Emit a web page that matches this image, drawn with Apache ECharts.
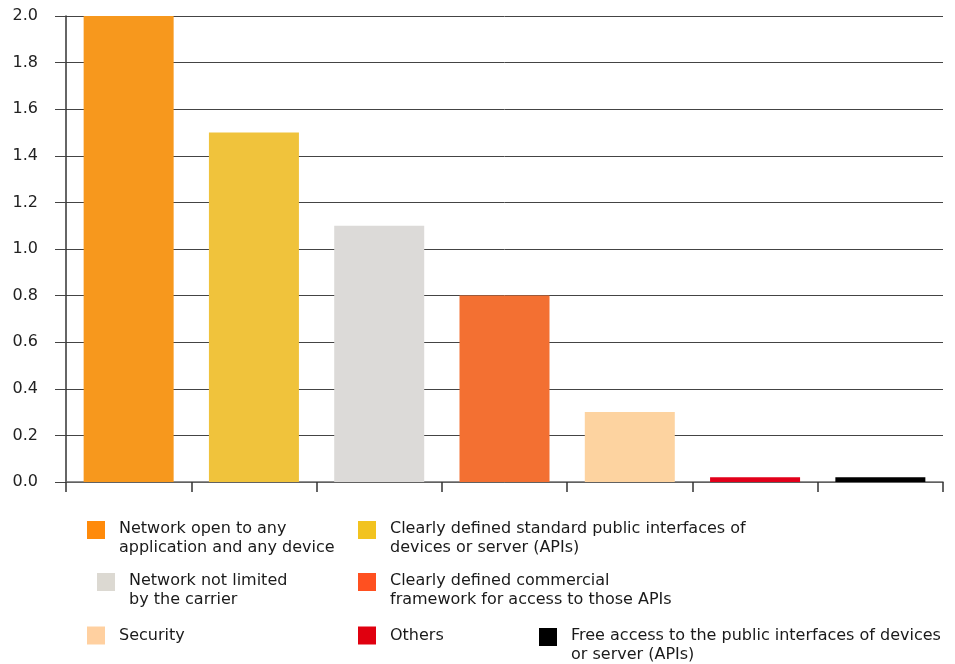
<!DOCTYPE html>
<html>
<head>
<meta charset="utf-8">
<script src="https://cdn.jsdelivr.net/npm/echarts@6/dist/echarts.min.js"></script>
<style>
  html, body { margin: 0; padding: 0; background: #fff; }
  #chart { width: 955px; height: 664px; }
</style>
</head>
<body>
<div id="chart"></div>
<script>
// Factors rated for an open mobile network
const seriesNames = [
  'Network open to any\napplication and any device',
  'Clearly defined standard public interfaces of\ndevices or server (APIs)',
  'Network not limited\nby the carrier',
  'Clearly defined commercial\nframework for access to those APIs',
  'Security',
  'Others',
  'Free access to the public interfaces of devices\nor server (APIs)'
];
const values = [2.0, 1.5, 1.1, 0.8, 0.3, 0.02, 0.02];
const barColors = ['#F7981D', '#F0C33C', '#DCDAD8', '#F37032', '#FDD3A0', '#E2001A', '#000000'];
const legendColors = ['#FF8A0A', '#F2C31F', '#DCD9D2', '#FF5020', '#FFD0A0', '#E0000F', '#000000'];
const yMin = 0, yMax = 2.0, yStep = 0.2;

// legend placement: [left, top] of each entry
const legendPos = [
  [87, 503], [358, 503],
  [97, 555], [358, 555],
  [87, 626], [358, 626], [539, 610]
];

const FONT = "'DejaVu Sans', Verdana, sans-serif";
const chart = echarts.init(document.getElementById('chart'), null, { renderer: 'canvas' });

const series = seriesNames.map((name, i) => ({
  name: name,
  type: 'bar',
  stack: 'all',
  barWidth: 90,
  itemStyle: { color: barColors[i] },
  data: seriesNames.map((_, j) => (j === i ? values[i] : '-'))
}));

const legends = seriesNames.map((name, i) => {
  const twoLine = name.indexOf('\n') >= 0;
  return {
    left: legendPos[i][0],
    top: legendPos[i][1],
    padding: 0,
    orient: 'vertical',
    icon: 'rect',
    itemWidth: 18,
    itemHeight: 18,
    selectedMode: false,
    data: [{ name: name, itemStyle: { color: legendColors[i] } }],
    // two-line entries hang from the top of their swatch
    formatter: n => (twoLine ? '{g| }\n' + n : n),
    textStyle: {
      fontFamily: FONT,
      fontSize: 16,
      color: '#1a1a1a',
      lineHeight: 19,
      padding: [0, 0, 0, 9],
      rich: { g: { fontSize: 4, lineHeight: 16 } }
    }
  };
});

chart.setOption({
  animation: false,
  backgroundColor: '#ffffff',
  grid: { left: 66, right: 12, top: 16, bottom: 182, containLabel: false },
  legend: legends,
  xAxis: {
    type: 'category',
    data: seriesNames,
    boundaryGap: true,
    axisLine: { show: true, lineStyle: { color: '#6b6b6b', width: 1.5 } },
    axisTick: { show: true, interval: 0, length: 10, alignWithLabel: false, lineStyle: { color: '#333', width: 1.5 } },
    axisLabel: { show: false, interval: 0 },
    splitLine: { show: false }
  },
  yAxis: {
    type: 'value',
    min: yMin,
    max: yMax,
    interval: yStep,
    axisLine: { show: true, onZero: false, lineStyle: { color: '#333', width: 1.5 } },
    axisTick: { show: true, length: 11, lineStyle: { color: '#444', width: 1 } },
    axisLabel: {
      margin: 28,
      fontFamily: FONT,
      fontSize: 16,
      color: '#222',
      formatter: v => v.toFixed(1)
    },
    splitLine: { show: true, lineStyle: { color: '#444', width: 1 } }
  },
  series: series
});
</script>
</body>
</html>
